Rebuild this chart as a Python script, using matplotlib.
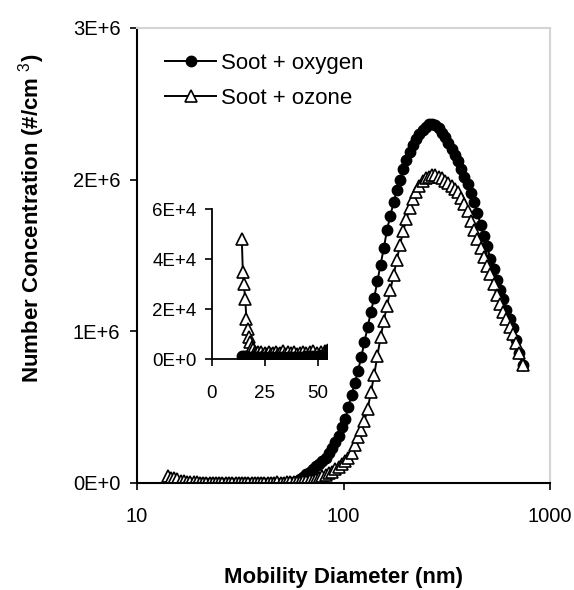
import matplotlib
matplotlib.use("Agg")
import matplotlib.pyplot as plt
from matplotlib.ticker import FixedLocator, FixedFormatter, NullLocator

plt.rcParams['font.family'] = ['Liberation Sans', 'DejaVu Sans']
plt.rcParams['mathtext.fontset'] = 'custom'
plt.rcParams['mathtext.rm'] = 'Liberation Sans'

# mobility diameter channels (nm)
diameter = [14.1, 14.6, 15.1, 15.7, 16.3, 16.8, 17.5, 18.1, 18.8, 19.5, 20.2, 20.9,
            21.7, 22.5, 23.3, 24.1, 25.0, 25.9, 26.9, 27.9, 28.9, 30.0, 31.1, 32.2,
            33.4, 34.6, 35.9, 37.2, 38.5, 40.0, 41.4, 42.9, 44.5, 46.1, 47.8, 49.6,
            51.4, 53.3, 55.2, 57.3, 59.4, 61.5, 63.8, 66.1, 68.5, 71.0, 73.7, 76.4,
            79.1, 82.0, 85.1, 88.2, 91.4, 94.7, 98.2, 101.8, 105.5, 109.4, 113.4, 117.6,
            121.9, 126.3, 131.0, 135.8, 140.7, 145.9, 151.2, 156.8, 162.5, 168.5, 174.7, 181.1,
            187.7, 194.6, 201.7, 209.1, 216.7, 224.7, 232.9, 241.4, 250.3, 259.5, 269.0, 278.8,
            289.0, 299.6, 310.6, 322.0, 333.8, 346.0, 358.7, 371.8, 385.4, 399.5, 414.2, 429.4,
            445.1, 461.4, 478.3, 495.8, 514.0, 532.8, 552.3, 572.5, 593.5, 615.3, 637.8, 661.2,
            685.4, 710.5, 736.5]

# number concentration, #/cm3
soot_oxygen = [1200, 900, 1400, 800, 1100, 700, 1000, 600, 900, 800, 700, 900,
               600, 800, 700, 500, 900, 600, 800, 700, 600, 800, 500, 700,
               900, 600, 800, 700, 900, 800, 1000, 900, 1200, 1100, 1300, 1200,
               1500, 1800, 4000, 9000, 16000, 26000, 40000, 60000, 75000, 90000, 110000, 125000,
               145000, 165000, 195000, 230000, 270000, 310000, 370000, 420000, 500000, 580000, 660000, 740000,
               830000, 930000, 1030000, 1130000, 1220000, 1330000, 1440000, 1550000, 1670000, 1760000, 1850000, 1930000,
               2000000, 2070000, 2130000, 2180000, 2230000, 2270000, 2300000, 2330000, 2350000, 2370000, 2370000, 2360000,
               2340000, 2310000, 2280000, 2240000, 2200000, 2160000, 2120000, 2070000, 2020000, 1970000, 1910000, 1850000,
               1780000, 1700000, 1630000, 1560000, 1480000, 1410000, 1340000, 1270000, 1210000, 1140000, 1080000, 1020000,
               940000, 860000, 780000]

soot_ozone = [48000, 35000, 30000, 24000, 16000, 12000, 9000, 7000, 5000, 4000, 3000, 2500,
              3000, 2000, 2800, 1800, 2600, 2200, 3000, 1900, 2500, 2800, 2000, 2600,
              3100, 2200, 2700, 2400, 3000, 2100, 2600, 2900, 2300, 2700, 3200, 2500,
              2900, 3300, 4000, 5000, 6000, 8000, 10000, 13000, 17000, 22000, 28000, 35000,
              43000, 52000, 63000, 75000, 90000, 105000, 125000, 145000, 165000, 200000, 250000, 300000,
              350000, 410000, 490000, 600000, 710000, 840000, 960000, 1070000, 1170000, 1270000, 1370000, 1470000,
              1570000, 1660000, 1740000, 1810000, 1870000, 1920000, 1960000, 1990000, 2010000, 2020000, 2030000, 2030000,
              2020000, 2010000, 1990000, 1980000, 1960000, 1940000, 1920000, 1880000, 1840000, 1790000, 1730000, 1670000,
              1610000, 1550000, 1490000, 1430000, 1380000, 1310000, 1240000, 1180000, 1130000, 1080000, 1030000, 980000,
              920000, 860000, 780000]

main_yticks = [0, 1e6, 2e6, 3e6]
main_ylabels = ["0E+0", "1E+6", "2E+6", "3E+6"]
main_xticks = [10, 100, 1000]
main_xlabels = ["10", "100", "1000"]
inset_yticks = [0, 2e4, 4e4, 6e4]
inset_ylabels = ["0E+0", "2E+4", "4E+4", "6E+4"]
inset_xticks = [0, 25, 50]

fig = plt.figure(figsize=(5.74, 5.90), dpi=100)
ax = fig.add_axes([0.2387, 0.1814, 0.7195, 0.7712])

ax.plot(diameter, soot_oxygen, color='black', lw=1.4, marker='o', ms=7.5,
        mfc='black', mec='black', label='Soot + oxygen')
ax.plot(diameter, soot_ozone, color='black', lw=1.4, marker='^', ms=8,
        mfc='white', mec='black', mew=1.2, label='Soot + ozone')

ax.set_xscale('log')
ax.set_xlim(10, 1000)
ax.set_ylim(0, 3e6)
ax.xaxis.set_major_locator(FixedLocator(main_xticks))
ax.xaxis.set_major_formatter(FixedFormatter(main_xlabels))
ax.xaxis.set_minor_locator(NullLocator())
ax.yaxis.set_major_locator(FixedLocator(main_yticks))
ax.yaxis.set_major_formatter(FixedFormatter(main_ylabels))

ax.tick_params(axis='both', direction='out', length=5, width=1.2, labelsize=14.5)
ax.tick_params(axis='x', pad=12)
ax.tick_params(axis='y', pad=7)
ax.spines['left'].set_linewidth(1.5)
ax.spines['bottom'].set_linewidth(1.5)
ax.spines['top'].set_color('#d4d4d4')
ax.spines['right'].set_color('#d4d4d4')
ax.spines['top'].set_linewidth(1.5)
ax.spines['right'].set_linewidth(1.5)

ax.set_xlabel("Mobility Diameter (nm)", fontsize=16, fontweight='bold')
ax.set_ylabel("Number Concentration (#/cm $^{3}$)", fontsize=16, fontweight='bold')
ax.xaxis.set_label_coords(0.5, -0.185)
ax.yaxis.set_label_coords(-0.218, 0.582)

ax.legend(loc='upper left', bbox_to_anchor=(0.02, 0.99), frameon=False,
          fontsize=16, handlelength=2.3, handletextpad=0.2, labelspacing=0.65)

# inset: small particle range
ins = fig.add_axes([0.369, 0.3915, 0.2, 0.254])
ins.patch.set_alpha(0)
ins.plot(diameter, soot_ozone, color='black', lw=1.4, marker='^', ms=8,
         mfc='white', mec='black', mew=1.2)
ins.plot(diameter, soot_oxygen, color='black', lw=1.4, marker='o', ms=7.5,
         mfc='black', mec='black')
ins.set_xlim(0, 54)
ins.set_ylim(0, 6e4)
ins.xaxis.set_major_locator(FixedLocator(inset_xticks))
ins.yaxis.set_major_locator(FixedLocator(inset_yticks))
ins.yaxis.set_major_formatter(FixedFormatter(inset_ylabels))
ins.spines['top'].set_visible(False)
ins.spines['right'].set_visible(False)
ins.spines['left'].set_linewidth(1.3)
ins.spines['bottom'].set_linewidth(1.3)
ins.tick_params(axis='both', direction='out', length=5, width=1.2, labelsize=13.5)
ins.tick_params(axis='x', pad=14)
ins.tick_params(axis='y', pad=6)

fig.savefig("out.png", dpi=100)
